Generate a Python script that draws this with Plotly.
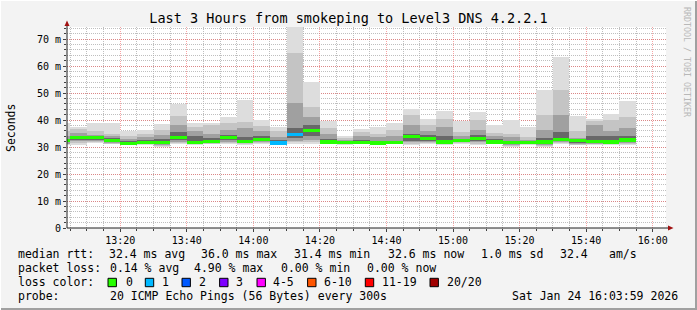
import plotly.graph_objects as go
import pandas as pd

# ---------------- data ----------------
# 5-minute smokeping intervals; first one is partially visible
interval_end = pd.date_range("2026-01-24 13:05", periods=35, freq="5min")

top = [38.9, 37.6, 39.1, 39.1, 36.0, 36.4, 38.6, 45.9, 38.9, 39.1, 41.0, 47.3, 40.1, 37.3, 74.4, 54.1, 39.5, 34.2,
       36.8, 37.3, 39.1, 44.2, 40.3, 43.4, 39.8, 43.1, 38.0, 39.9, 37.3, 51.3, 63.3, 41.5, 40.4, 42.3, 46.9]
hi2 = [36.0, 36.8, 35.8, 35.0, 34.0, 35.0, 36.5, 41.5, 37.6, 38.0, 38.8, 39.4, 37.8, 35.8, 64.9, 44.8, 37.0, 33.4,
       35.4, 35.0, 36.2, 41.8, 38.0, 40.5, 35.4, 40.0, 35.2, 35.0, 33.6, 42.0, 51.0, 36.0, 39.5, 40.0, 41.0]
hi3 = [34.0, 35.2, 34.6, 34.0, 33.0, 33.8, 34.6, 38.2, 36.0, 35.0, 36.2, 37.0, 35.8, 33.8, 46.5, 41.0, 35.0, 32.8,
       34.0, 33.6, 34.0, 38.0, 36.0, 37.5, 34.0, 36.5, 34.0, 33.6, 32.6, 36.5, 42.0, 33.4, 38.0, 36.0, 37.0]
hi4 = [33.0, 34.2, 34.0, 33.2, 32.4, 32.8, 33.0, 35.5, 34.0, 33.2, 34.6, 33.6, 34.0, 32.6, 37.0, 38.0, 33.0, 32.2,
       32.8, 32.4, 32.4, 35.0, 34.4, 34.0, 33.0, 34.4, 33.0, 32.4, 32.0, 33.2, 35.5, 32.6, 34.0, 34.0, 34.0]
median = [32.3, 33.6, 33.6, 32.5, 31.4, 31.7, 31.7, 33.6, 31.7, 32.1, 33.6, 32.1, 32.8, 31.5, 34.7, 36.0, 31.9, 31.7,
          31.8, 31.5, 31.6, 33.8, 33.2, 31.9, 32.4, 33.2, 31.9, 31.7, 31.7, 31.9, 32.8, 32.4, 32.2, 31.9, 32.6]
lo4 = [31.8, 32.8, 32.6, 32.0, 31.2, 31.4, 31.2, 32.6, 31.4, 31.8, 32.6, 31.7, 32.2, 31.3, 33.2, 34.0, 31.6, 31.5,
       31.6, 31.3, 31.4, 32.4, 32.4, 31.5, 32.0, 32.2, 31.6, 31.3, 31.5, 31.3, 32.2, 31.6, 31.6, 31.6, 31.8]
lo3 = [31.3, 32.2, 32.2, 31.6, 31.0, 31.2, 30.8, 32.0, 31.2, 31.5, 31.8, 31.4, 31.8, 31.2, 32.4, 32.8, 31.4, 31.3,
       31.4, 31.2, 31.2, 31.8, 32.0, 31.2, 31.7, 31.7, 31.4, 30.8, 31.3, 30.8, 31.8, 31.0, 31.3, 31.3, 31.4]
lo2 = [31.0, 31.6, 31.8, 31.3, 30.8, 31.0, 30.4, 31.6, 31.0, 31.2, 31.4, 31.1, 31.4, 31.1, 31.8, 31.8, 31.2, 31.1,
       31.2, 31.1, 31.1, 31.3, 31.6, 31.0, 31.5, 31.2, 31.2, 30.4, 31.1, 30.4, 31.5, 30.8, 31.1, 31.1, 31.1]
bottom = [30.6, 30.9, 31.5, 31.0, 30.6, 30.8, 29.9, 31.3, 30.8, 31.0, 31.0, 30.8, 31.1, 31.0, 31.2, 31.2, 31.0, 30.9,
          31.0, 31.0, 31.0, 30.9, 31.3, 30.8, 31.3, 30.8, 31.0, 29.9, 30.9, 30.0, 31.2, 30.6, 30.9, 30.9, 30.9]
lost_pings = [0, 0, 0, 0, 0, 0, 0, 0, 0, 0, 0, 0, 0, 1, 1, 0, 0, 0,
              0, 0, 0, 0, 0, 0, 0, 0, 0, 0, 0, 0, 0, 0, 0, 0, 0]

loss_labels = ["0", "1", "2", "3", "4-5", "6-10", "11-19", "20/20"]
loss_colors = ["#26ff00", "#00b8ff", "#0059ff", "#7e00ff", "#ff00ff", "#ff5500", "#ff0000", "#a10000"]
y_ticks = [0, 10, 20, 30, 40, 50, 60, 70]
y_ticktext = ["0", "10 m", "20 m", "30 m", "40 m", "50 m", "60 m", "70 m"]

stats_rtt = ["32.4 ms avg", "36.0 ms max", "31.4 ms min", "32.6 ms now", "1.0 ms sd", "32.4", "am/s"]
stats_loss = ["0.14 % avg", "4.90 % max", "0.00 % min", "0.00 % now"]
probe_text = "20 ICMP Echo Pings (56 Bytes) every 300s"
stamp_text = "Sat Jan 24 16:03:59 2026"
title_text = "Last 3 Hours from smokeping to Level3 DNS 4.2.2.1"

# ---------------- layout geometry ----------------
W, H = 697, 310
L, R, T, B = 67, 666, 27, 228
MONO = "DejaVu Sans Mono"


def xp(px):
    return (px - L) / (R - L)


def yp(py):
    return (B - py) / (B - T)


centers = [t - pd.Timedelta(seconds=150) for t in interval_end]
step_ms = 300000

fig = go.Figure()

bands = [(bottom, top, "#dddddd"), (lo2, hi2, "#c4c4c4"), (lo3, hi3, "#a0a0a0"), (lo4, hi4, "#686868")]
for lo, hi, col in bands:
    fig.add_trace(go.Bar(x=centers, base=lo, y=[h - l for l, h in zip(lo, hi)], width=step_ms,
                         marker=dict(color=col, line=dict(width=0)), showlegend=False, hoverinfo="skip"))

sw = 0.6
fig.add_trace(go.Bar(x=centers, base=[m - sw for m in median], y=[2 * sw] * len(median), width=step_ms,
                     marker=dict(color=[loss_colors[n] for n in lost_pings], line=dict(width=0)),
                     showlegend=False, hoverinfo="skip"))

grid_minor = "rgba(170,170,170,0.75)"
grid_major = "rgba(240,90,90,0.55)"

fig.update_layout(
    width=W, height=H, margin=dict(l=L, r=W - R, t=T, b=H - B, pad=0),
    paper_bgcolor="#f3f3f3", plot_bgcolor="#ffffff", barmode="overlay", bargap=0,
    showlegend=False,
    font=dict(family=MONO, size=10, color="#000000"),
    title=dict(text=title_text, x=0.5, xref="container", xanchor="center",
               y=1 - 18.5 / H, yref="container", yanchor="middle",
               font=dict(family=MONO, size=13.5, color="#000000")),
    xaxis=dict(type="date", range=["2026-01-24 13:04:00", "2026-01-24 16:04:00"],
               tick0="2026-01-24 13:20", dtick=1200000, tickformat="%H:%M",
               showgrid=True, gridcolor=grid_major, griddash="1px,1px", gridwidth=1,
               ticks="outside", ticklen=3, tickcolor="#404040",
               tickfont=dict(family=MONO, size=10, color="#000000"),
               minor=dict(dtick=300000, tick0="2026-01-24 13:05", showgrid=True, gridcolor=grid_minor,
                          griddash="1px,1px", ticks="outside", ticklen=2, tickcolor="#404040"),
               showline=False, zeroline=False, fixedrange=True),
    yaxis=dict(range=[0, 74.5], tickvals=y_ticks, ticktext=y_ticktext,
               showgrid=True, gridcolor=grid_major, griddash="1px,1px", gridwidth=1,
               ticks="outside", ticklen=3, tickcolor="#404040",
               tickfont=dict(family=MONO, size=10, color="#000000"),
               minor=dict(dtick=2, showgrid=True, gridcolor=grid_minor, griddash="1px,1px",
                          ticks="outside", ticklen=2, tickcolor="#404040"),
               showline=False, zeroline=False, fixedrange=True),
)

shapes = []
# axis lines with arrows
shapes.append(dict(type="line", xref="paper", yref="paper", x0=xp(L), x1=xp(671), y0=0, y1=0,
                   line=dict(color="#202020", width=1)))
shapes.append(dict(type="line", xref="paper", yref="paper", x0=0, x1=0, y0=0, y1=yp(24),
                   line=dict(color="#202020", width=1)))
shapes.append(dict(type="path", xref="paper", yref="paper",
                   path=f"M {xp(668)} {yp(225.5)} L {xp(673.5)} {yp(228)} L {xp(668)} {yp(230.5)} Z",
                   fillcolor="#a01010", line=dict(width=0)))
shapes.append(dict(type="path", xref="paper", yref="paper",
                   path=f"M {xp(64.5)} {yp(26)} L {xp(67)} {yp(20.5)} L {xp(69.5)} {yp(26)} Z",
                   fillcolor="#a01010", line=dict(width=0)))

annotations = []


def text(px, py, s, size=11.5, anchor="left", color="#000000", angle=0):
    annotations.append(dict(x=xp(px), y=yp(py), xref="paper", yref="paper", text=s, showarrow=False,
                            xanchor=anchor, yanchor="middle", textangle=angle,
                            font=dict(family=MONO, size=size, color=color)))


row = [254.3, 268.3, 282.3, 296.0]
text(15.5, row[0], "median rtt:")
for s, x in zip(stats_rtt, [106.5, 199, 292, 385.5, 479, 557.5, 606.5]):
    text(x, row[0], s)
text(15.5, row[1], "packet loss:")
for s, x in zip(stats_loss, [107.5, 192, 279, 364.5]):
    text(x, row[1], s)
text(15.5, row[2], "loss color:")
box_x = [108, 145.3, 182, 219.6, 257, 307.6, 365.3, 430]
lab_x = [123.6, 160, 197, 234, 271, 321.8, 380, 445.3]
for lab, col, bx, lx in zip(loss_labels, loss_colors, box_x, lab_x):
    shapes.append(dict(type="rect", xref="paper", yref="paper", x0=xp(bx), x1=xp(bx + 8.4),
                       y0=yp(286.7), y1=yp(278.3), fillcolor=col, line=dict(color="#000000", width=1)))
    text(lx, row[2], lab)
text(15.5, row[3], "probe:")
text(107.5, row[3], probe_text)
text(680.5, row[3], stamp_text, anchor="right")
text(11, 128, "Seconds", size=11.5, anchor="center", angle=-90)
text(687, 62, "RRDTOOL / TOBI OETIKER", size=8.3, anchor="center", color="#b8b8b8", angle=90)

# image frame
shapes.append(dict(type="line", xref="paper", yref="paper", x0=xp(0), x1=xp(697), y0=yp(309), y1=yp(309),
                   line=dict(color="#a0a0a0", width=2)))
shapes.append(dict(type="line", xref="paper", yref="paper", x0=xp(696), x1=xp(696), y0=yp(0), y1=yp(310),
                   line=dict(color="#a0a0a0", width=2)))
shapes.append(dict(type="line", xref="paper", yref="paper", x0=xp(0), x1=xp(697), y0=yp(0.5), y1=yp(0.5),
                   line=dict(color="#ffffff", width=1)))
shapes.append(dict(type="line", xref="paper", yref="paper", x0=xp(0.5), x1=xp(0.5), y0=yp(0), y1=yp(310),
                   line=dict(color="#ffffff", width=1)))

fig.update_layout(shapes=shapes, annotations=annotations)
fig.write_html("out.html")
